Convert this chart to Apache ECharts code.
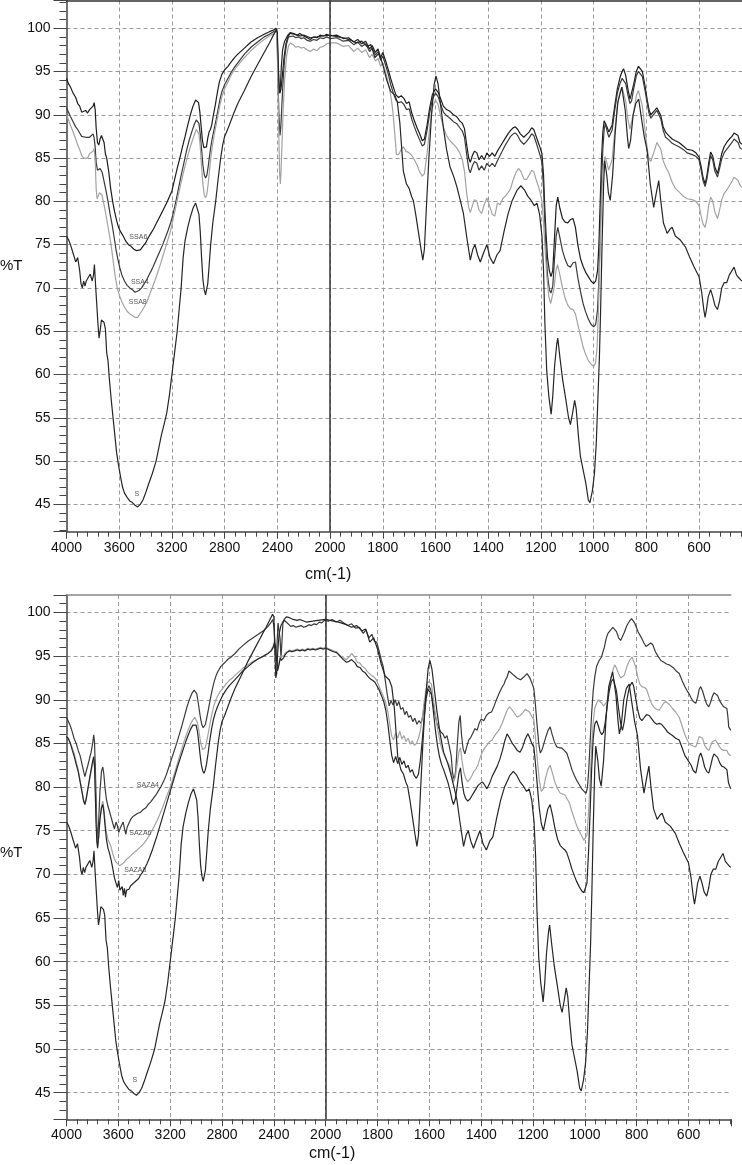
<!DOCTYPE html>
<html>
<head>
<meta charset="utf-8">
<title>FTIR spectra</title>
<script src="https://cdn.jsdelivr.net/npm/echarts@6/dist/echarts.min.js"></script>
<style>
  html, body { margin: 0; padding: 0; background: #fff; }
  #chart { width: 742px; height: 1165px; }
</style>
</head>
<body>
<div id="chart"></div>
<script>
// spectra as [wavenumber cm-1, %T]
const specS = [[4000,76],[3985,75.6],[3970,75],[3950,74],[3930,73],[3915,73.5],[3900,72],[3890,70.5],[3880,70],[3870,70.8],[3860,70.2],[3850,70.8],[3835,71],[3820,71.6],[3805,70.8],[3795,71.5],[3788,72.7],[3780,70.5],[3772,68.5],[3762,66],[3753,64.2],[3745,65],[3735,66.3],[3725,66.5],[3715,66],[3705,65.3],[3695,62.5],[3685,61.6],[3675,59.5],[3660,57],[3640,54],[3620,51],[3605,49.5],[3590,48.2],[3575,47],[3560,46.3],[3540,45.8],[3520,45.4],[3500,45.2],[3480,44.9],[3460,44.7],[3440,45],[3420,45.5],[3400,46.3],[3380,47.2],[3350,48.5],[3320,50],[3300,51.5],[3280,53],[3260,54.2],[3240,55.5],[3220,57.5],[3200,60],[3180,62.5],[3160,65],[3145,67.5],[3130,70],[3115,73.5],[3100,75.5],[3080,77],[3060,78.2],[3040,79.2],[3020,79.8],[3005,79.7],[2995,78.5],[2985,76.5],[2975,73.5],[2965,71],[2955,69.8],[2945,69.2],[2936,69.3],[2928,70.5],[2918,72.5],[2906,75],[2890,77.5],[2868,80],[2850,82.5],[2830,85],[2815,86.5],[2800,87.5],[2780,88.2],[2760,89],[2730,90.2],[2700,91.3],[2650,92.8],[2600,94.4],[2550,95.8],[2500,97.2],[2460,98.3],[2430,99.2],[2410,99.8],[2400,99.5],[2392,95.5],[2385,92.5],[2378,93],[2370,95.5],[2360,97.5],[2345,98.5],[2320,99.2],[2303,99.5],[2280,99.4],[2250,99.2],[2220,99.1],[2200,99.2],[2150,98.9],[2100,99],[2060,99.1],[2000,99.2],[1970,99],[1950,98.9],[1920,98.6],[1900,98.3],[1880,98.5],[1860,97.9],[1845,98.1],[1830,96.6],[1815,97.1],[1800,95.8],[1785,94],[1770,92.7],[1755,92.3],[1745,91.5],[1735,89],[1722,83.5],[1710,82],[1700,81.5],[1690,80.5],[1684,80.1],[1675,78.5],[1665,76.5],[1655,74.5],[1648,73.2],[1642,74.5],[1635,79],[1625,85],[1615,90],[1605,93.5],[1598,94.5],[1590,93.5],[1580,91],[1570,88.5],[1558,86],[1545,84],[1530,82.8],[1519,81.7],[1505,80],[1494,78.6],[1482,76],[1468,73.2],[1458,74.5],[1450,75],[1440,73.8],[1430,73],[1418,74],[1405,75],[1393,73.5],[1380,72.8],[1367,73.8],[1355,74.3],[1340,76.5],[1325,78.5],[1310,80],[1290,81.3],[1276,81.8],[1262,81.3],[1250,80.6],[1237,80.1],[1225,79.5],[1215,79.8],[1205,78.5],[1196,76],[1190,72],[1185,66],[1178,60.5],[1170,57.5],[1161,55.4],[1155,57.5],[1148,61],[1140,63.5],[1136,64.2],[1128,62],[1118,59.5],[1105,57],[1095,55],[1088,54.2],[1080,55.5],[1072,57],[1066,56],[1058,53],[1050,50.5],[1040,49],[1030,47.5],[1020,45.5],[1014,45.2],[1005,46.5],[997,48.5],[990,52],[984,57],[978,62],[973,68],[968,75],[962,82],[958,84.7],[950,83],[944,81],[937,80.1],[928,83],[918,88],[908,91.5],[893,93.2],[880,90.5],[872,87.5],[867,86.1],[860,87],[850,90],[840,91.3],[829,91.8],[818,89.5],[808,87.5],[797,85.9],[785,82],[772,79.3],[762,81],[753,82.4],[745,80],[735,77.5],[721,76.3],[710,76.8],[702,77],[690,76],[670,75.5],[651,74.7],[635,73.5],[620,72.5],[600,71.3],[590,69.5],[582,67.5],[577,66.6],[572,67.5],[565,69],[556,69.8],[548,69],[540,68],[530,67.5],[522,68.5],[514,70],[505,70.6],[495,70.6],[485,71.5],[475,72],[467,72.4],[458,71.5],[450,71.2],[441,70.9],[437,70.8]];

const specSSA6 = [[4000,94.2],[3985,93.6],[3970,93.2],[3950,92.5],[3930,92],[3915,91.3],[3900,91],[3885,90.3],[3870,90.1],[3855,90.5],[3840,90.2],[3825,90.6],[3810,90.4],[3798,91],[3790,91.4],[3782,90.5],[3775,88.5],[3765,86.8],[3755,86.5],[3745,87.2],[3735,87.6],[3725,87.5],[3715,86.8],[3705,85.5],[3695,85],[3680,83.5],[3665,81.5],[3650,80],[3635,78.8],[3620,77.8],[3605,77],[3590,76.5],[3570,76],[3550,75.4],[3530,75],[3510,74.8],[3490,74.5],[3470,74.3],[3455,74.2],[3440,74.4],[3420,74.8],[3400,75.2],[3380,75.8],[3360,76.3],[3340,76.8],[3320,77.4],[3300,78],[3280,78.6],[3260,79.2],[3240,79.8],[3220,80.5],[3200,81.2],[3180,82.5],[3160,83.8],[3140,85],[3120,86.3],[3100,87.5],[3080,88.8],[3060,90],[3040,91],[3020,91.7],[3008,91.8],[2998,91.4],[2988,90.3],[2978,88.6],[2968,87],[2958,86.2],[2948,86],[2938,86.3],[2928,87.3],[2918,88],[2908,88.3],[2898,88.8],[2885,90],[2870,91.2],[2855,92.6],[2840,93.8],[2820,94.7],[2800,95.2],[2775,95.6],[2750,96.1],[2725,96.6],[2700,97],[2650,97.7],[2600,98.4],[2550,98.9],[2500,99.3],[2460,99.6],[2430,99.8],[2410,100],[2402,99.5],[2395,96],[2388,93.5],[2380,92.5],[2372,93],[2362,94.5],[2350,96.5],[2335,98.2],[2320,99],[2305,99.4],[2290,99.6],[2270,99.3],[2250,99.2],[2230,99.4],[2200,99.1],[2175,98.9],[2150,98.7],[2125,99],[2100,98.9],[2075,99.2],[2050,99.1],[2025,99.3],[2000,99.1],[1975,99.2],[1950,98.8],[1930,98.9],[1910,98.4],[1895,98.7],[1880,98.2],[1865,98.5],[1850,97.6],[1840,98],[1828,97.2],[1818,97.6],[1808,96.6],[1800,97.2],[1790,96.3],[1780,95.3],[1770,94.2],[1760,93.2],[1750,92.3],[1740,92],[1730,92.2],[1720,91.9],[1710,91.3],[1700,91.5],[1690,90.2],[1680,89.3],[1670,88.5],[1660,87.8],[1650,87],[1642,87.2],[1632,88.8],[1622,90.8],[1612,92.3],[1600,93],[1590,92.6],[1580,91.8],[1570,91],[1558,90.6],[1545,90.4],[1532,90],[1520,89.8],[1508,89.3],[1498,89],[1490,88.4],[1482,86.6],[1474,85],[1468,84.5],[1460,85.3],[1452,85.8],[1443,85.6],[1435,84.8],[1425,85.3],[1415,84.8],[1405,85.6],[1395,85.2],[1385,85.6],[1375,85.2],[1365,85.8],[1355,86.3],[1345,86.8],[1335,87.3],[1325,87.8],[1315,88.2],[1305,88.5],[1297,88.6],[1288,88.3],[1278,87.8],[1265,87.4],[1255,87.7],[1245,88],[1235,88.5],[1227,88.3],[1218,87.5],[1210,86.8],[1203,86.2],[1196,85.5],[1190,83],[1185,79],[1180,76],[1175,73.5],[1168,72],[1162,71.3],[1155,72],[1148,76],[1142,79.5],[1136,80.5],[1128,79.2],[1118,78],[1108,77.6],[1098,77.5],[1088,77.9],[1078,78],[1069,77],[1060,75],[1050,73.4],[1040,72.5],[1030,71.8],[1020,71.3],[1010,70.8],[1000,70.5],[992,70.8],[985,72],[980,75],[975,80],[970,85],[965,88],[960,89.3],[955,89.5],[948,88.5],[942,88],[937,87.8],[930,88.8],[920,91],[910,93],[900,94.3],[892,95],[886,95.3],[878,94.5],[870,93],[862,91.8],[856,92],[848,93.5],[838,95],[830,95.6],[823,95.7],[815,95],[806,93.5],[797,91.8],[790,90.6],[783,90],[778,89.9],[768,90.5],[760,90.8],[753,90.7],[745,89.9],[736,88.6],[727,88],[715,87.6],[702,87.2],[690,87],[676,86.8],[660,86.4],[645,86],[626,85.9],[612,85.6],[600,85.1],[592,84],[585,82.8],[577,82],[570,83],[563,84.5],[556,85.7],[548,85.2],[540,84],[530,83.2],[522,84.3],[514,85.5],[505,86.3],[495,86.8],[485,87.2],[475,87.5],[467,87.9],[460,88],[452,87.6],[445,86.8],[441,86.7],[437,86.6]];

const specSSA4 = [[4000,90.8],[3985,90.3],[3970,89.8],[3950,89.2],[3930,88.6],[3915,88.3],[3900,87.9],[3885,87.5],[3870,87.3],[3855,87.4],[3840,87.2],[3825,87.4],[3810,87.6],[3798,87.8],[3790,87.3],[3782,86.2],[3775,84.5],[3765,83.6],[3755,83.4],[3745,83.8],[3738,83.7],[3728,83.3],[3715,82.3],[3700,81.2],[3685,80],[3670,78.6],[3655,77.4],[3640,76],[3625,74.5],[3610,73.3],[3595,72.3],[3580,71.5],[3560,70.8],[3540,70.3],[3520,70],[3500,69.8],[3480,69.5],[3465,69.6],[3450,69.7],[3430,70],[3410,70.5],[3390,71],[3370,71.6],[3350,72.2],[3330,72.9],[3310,73.6],[3290,74.3],[3270,75],[3250,75.8],[3230,76.6],[3210,77.5],[3190,78.6],[3170,80],[3150,81.5],[3130,83],[3110,84.4],[3090,85.8],[3070,87],[3050,88],[3030,88.9],[3015,89.4],[3005,89.5],[2995,89],[2985,87.8],[2975,86],[2965,84.2],[2955,83.1],[2945,82.7],[2935,83],[2925,84],[2915,85.2],[2905,86.3],[2895,87.2],[2880,88.3],[2865,89.4],[2850,90.6],[2835,91.8],[2820,92.7],[2800,93.5],[2775,94.2],[2750,94.9],[2725,95.5],[2700,96],[2650,97],[2600,97.8],[2550,98.4],[2500,99],[2460,99.3],[2430,99.6],[2410,99.8],[2402,99.2],[2395,94],[2388,90],[2380,87.6],[2374,88.5],[2366,91],[2356,94],[2345,96.5],[2330,98.2],[2315,99],[2300,99.2],[2280,99.1],[2260,98.9],[2240,99],[2220,98.8],[2200,98.9],[2175,98.6],[2150,98.5],[2125,98.7],[2100,98.6],[2075,98.9],[2050,98.8],[2025,99],[2000,98.8],[1975,98.9],[1950,98.5],[1930,98.6],[1910,98.1],[1895,98.4],[1880,97.9],[1865,98.2],[1850,97.3],[1840,97.7],[1828,96.9],[1818,97.3],[1808,96.3],[1800,96.8],[1790,95.8],[1780,94.8],[1770,93.5],[1760,92.5],[1750,91.7],[1740,91.4],[1730,91.5],[1720,91.2],[1710,90.6],[1700,90.7],[1690,89.5],[1680,88.6],[1670,87.8],[1660,87.1],[1650,86.4],[1642,86.6],[1632,88.2],[1622,90.2],[1612,91.8],[1600,92.5],[1590,92.1],[1580,91.2],[1570,90.3],[1558,89.9],[1545,89.6],[1532,89.2],[1520,89],[1508,88.5],[1498,88.1],[1490,87.4],[1482,85.5],[1474,83.8],[1468,83.3],[1460,84.1],[1452,84.6],[1443,84.4],[1435,83.6],[1425,84.1],[1415,83.6],[1405,84.4],[1395,84],[1385,84.4],[1375,84],[1365,84.7],[1355,85.3],[1345,85.9],[1335,86.5],[1325,87],[1315,87.5],[1305,87.8],[1297,87.9],[1288,87.6],[1278,87],[1265,86.6],[1255,86.9],[1245,87.3],[1235,87.8],[1227,87.6],[1218,86.8],[1210,86],[1203,85.3],[1196,84.5],[1190,81.5],[1185,77.5],[1180,74],[1175,71.5],[1168,69.8],[1162,69.4],[1155,70.2],[1148,73.5],[1142,76],[1136,77],[1128,75.8],[1118,74.3],[1108,73.3],[1098,72.6],[1088,72.4],[1078,72.9],[1069,73],[1060,71.2],[1050,69.6],[1040,68.2],[1030,67.2],[1020,66.4],[1010,65.8],[1000,65.5],[992,65.8],[985,67.5],[980,71],[975,76],[970,82],[965,86],[960,88.3],[955,89],[948,88],[942,87.4],[937,87.2],[930,88.2],[920,90.5],[910,92.5],[900,93.6],[892,94.2],[886,94.3],[878,93.6],[870,92.3],[862,91.3],[856,91.6],[848,93],[838,94.5],[830,95],[823,95.1],[815,94.4],[806,93],[797,91.4],[790,90.2],[783,89.6],[778,89.6],[768,90.2],[760,90.5],[753,90.4],[745,89.5],[736,88.2],[727,87.4],[715,87.1],[702,86.7],[690,86.5],[676,86.3],[660,86],[645,85.6],[626,85.4],[612,85.2],[600,84.8],[592,83.6],[585,82.4],[577,81.7],[570,82.6],[563,84],[556,85.3],[548,84.8],[540,83.5],[530,82.8],[522,83.8],[514,84.9],[505,85.6],[495,86],[485,86.4],[475,86.8],[467,87.2],[460,87.3],[452,86.8],[445,86.2],[441,86],[437,86]];

const specSSA8 = [[4000,90],[3985,89.4],[3970,88.8],[3950,88],[3930,87.2],[3915,86.5],[3900,86],[3885,85.3],[3870,85],[3855,85.2],[3840,85],[3825,85.5],[3810,85.3],[3798,85.8],[3790,86.1],[3782,84.5],[3775,81.5],[3768,80.3],[3760,80.6],[3750,81],[3740,81.2],[3730,80.7],[3718,79.8],[3705,78.8],[3690,77.5],[3675,76.2],[3660,74.8],[3645,73],[3630,71.3],[3615,70],[3600,69.2],[3580,68.4],[3560,67.8],[3540,67.3],[3520,67],[3500,66.8],[3480,66.6],[3460,66.6],[3445,66.8],[3430,67.3],[3410,67.8],[3390,68.4],[3370,69.2],[3350,70],[3330,70.8],[3310,71.7],[3290,72.6],[3270,73.6],[3250,74.6],[3230,75.6],[3210,76.6],[3190,78],[3170,79.4],[3150,80.8],[3130,82.2],[3110,83.5],[3090,84.7],[3070,85.8],[3050,86.8],[3030,87.7],[3015,88.3],[3005,88.4],[2995,87.8],[2985,86.3],[2975,84],[2965,82],[2955,80.8],[2945,80.4],[2935,80.8],[2925,82],[2915,83.5],[2905,85],[2895,86.2],[2880,87.6],[2865,88.8],[2850,90],[2835,91.2],[2820,92.1],[2800,93],[2775,93.8],[2750,94.6],[2725,95.2],[2700,95.7],[2650,96.6],[2600,97.4],[2550,98.1],[2500,98.7],[2460,99.1],[2430,99.4],[2410,99.7],[2402,98.8],[2395,93],[2388,87],[2382,83],[2377,82],[2372,83.5],[2365,86.5],[2356,90.5],[2345,94],[2330,96.8],[2315,98],[2300,98.3],[2280,98.1],[2260,97.8],[2240,97.9],[2220,97.7],[2200,97.8],[2175,97.5],[2150,97.3],[2125,97.6],[2100,97.4],[2075,97.8],[2050,97.9],[2025,98.2],[2000,98.3],[1975,98.3],[1950,97.9],[1930,98],[1910,97.3],[1895,97.7],[1880,97.2],[1865,97.5],[1850,96.6],[1840,97],[1828,96.2],[1818,96.5],[1808,95.6],[1800,96],[1790,95],[1780,93.8],[1770,92.3],[1762,90.5],[1755,88],[1748,85.4],[1740,85.4],[1730,86],[1722,86.3],[1712,85.8],[1700,85.6],[1690,85.3],[1680,84.8],[1670,84.2],[1660,83.4],[1650,82.9],[1642,83.2],[1632,85.5],[1622,88.5],[1612,90.8],[1600,91.7],[1590,91.2],[1580,89.8],[1570,88.6],[1558,87.6],[1545,87],[1532,86.6],[1520,86.2],[1508,85.6],[1498,84.8],[1490,83.5],[1482,81],[1474,79.3],[1468,78.7],[1460,79.5],[1452,80.2],[1443,80],[1435,79],[1425,78.6],[1415,79.6],[1405,80.4],[1395,79.5],[1385,78.5],[1375,78.3],[1365,79.8],[1355,79.6],[1345,80.3],[1335,80.6],[1325,81],[1316,81.4],[1305,82.5],[1295,83.3],[1285,83.8],[1275,83.4],[1265,82.6],[1255,82.5],[1245,83],[1235,83.6],[1227,83.4],[1218,82.5],[1210,81.8],[1203,81],[1196,80],[1190,77.5],[1185,75],[1178,71.5],[1170,69],[1163,68.2],[1157,68.2],[1150,70],[1143,72],[1137,72.7],[1128,71.5],[1118,70],[1108,68.8],[1098,68],[1088,67.6],[1078,67.5],[1069,67],[1060,65.8],[1050,64.5],[1040,63.2],[1030,62.3],[1020,61.6],[1010,61.2],[1000,60.9],[993,61.3],[987,63],[982,67],[977,72.5],[972,78],[967,82],[962,84.3],[957,85.2],[950,84.5],[943,83.6],[937,83.4],[930,84.8],[920,88],[910,91],[900,92.6],[892,93.2],[886,93.2],[878,91.5],[870,89.5],[862,88.3],[856,88.5],[848,90.3],[838,92.2],[830,92.8],[823,92.7],[815,91],[806,88.5],[797,86.2],[790,84.9],[783,84.6],[778,84.7],[768,86],[760,86.8],[753,87],[745,86],[736,84.7],[727,84],[715,83.3],[702,82.2],[690,81.5],[676,81.1],[660,80.6],[645,80.3],[626,80.2],[612,80],[600,79.5],[592,78.3],[585,77.4],[577,77],[570,78],[563,79.6],[556,80.5],[548,80],[540,78.8],[530,78],[522,79],[514,80.2],[505,80.9],[495,81.3],[485,81.8],[475,82.3],[467,82.8],[460,82.9],[452,82.4],[445,81.9],[441,81.7],[437,81.6]];

const specSAZA4 = [[4000,88],[3985,87.8],[3970,87],[3955,86.3],[3940,85.5],[3925,85],[3910,84.2],[3895,83.6],[3880,82.6],[3868,81.8],[3858,81.2],[3848,81.8],[3835,82.5],[3822,83.3],[3810,84],[3798,85],[3790,86],[3784,85.2],[3778,82.5],[3772,79],[3766,75.5],[3760,73.5],[3752,76],[3742,79.5],[3730,81.8],[3720,82.3],[3712,81.5],[3702,79.8],[3692,78.6],[3680,77.8],[3668,77.2],[3655,76.5],[3642,75.8],[3630,75.2],[3618,76],[3608,75.6],[3597,74.8],[3585,75.3],[3574,75.1],[3563,76],[3552,75.2],[3542,74.6],[3532,75.4],[3520,75.8],[3505,76.3],[3490,76.6],[3470,76.8],[3450,77],[3430,77.1],[3410,77.4],[3390,77.6],[3370,78],[3350,78.3],[3330,78.7],[3310,79.1],[3290,79.6],[3270,80.1],[3250,80.7],[3230,81.4],[3210,82.3],[3190,83.2],[3170,84.1],[3150,85],[3130,86],[3110,87],[3090,88.1],[3070,89.2],[3050,90.1],[3030,90.8],[3015,91.1],[3005,91.1],[2995,90.7],[2985,89.8],[2975,88.8],[2965,87.8],[2955,87.1],[2945,86.8],[2937,86.8],[2928,87.2],[2918,87.9],[2905,88.9],[2890,90.1],[2875,91.2],[2860,92.1],[2845,92.8],[2830,93.3],[2810,93.8],[2790,94.1],[2770,94.4],[2750,94.7],[2730,94.9],[2700,95.3],[2670,95.8],[2640,96.2],[2600,96.7],[2560,97.1],[2520,97.5],[2480,97.9],[2445,98.4],[2420,98.9],[2408,99.2],[2398,98.2],[2390,96],[2382,94.5],[2375,96.5],[2368,98.8],[2360,99],[2352,97],[2345,94.8],[2338,96.5],[2330,98.8],[2320,99.1],[2305,98.9],[2290,98.7],[2270,98.4],[2250,98.5],[2230,98.3],[2210,98.4],[2190,98.5],[2170,98.3],[2150,98.4],[2130,98.6],[2110,98.5],[2090,98.7],[2070,98.6],[2050,98.9],[2030,98.8],[2010,99.1],[1990,99],[1975,99.2],[1960,98.9],[1945,99.1],[1930,98.8],[1915,98.5],[1900,98.7],[1885,98.2],[1870,98.3],[1855,97.6],[1845,98],[1833,97.1],[1822,97.5],[1812,96.7],[1803,96.6],[1795,95.7],[1785,94.5],[1778,93.8],[1770,92.2],[1762,90.5],[1755,89.3],[1748,89.9],[1740,89.4],[1732,90],[1725,89.3],[1718,89.8],[1710,88.9],[1702,89.1],[1695,88.3],[1688,88.7],[1680,88],[1672,88.2],[1664,87.5],[1656,87.9],[1648,87.2],[1640,87.6],[1632,87.3],[1625,88.2],[1617,89.8],[1610,91],[1602,91.6],[1595,91.2],[1588,90],[1580,88.6],[1572,87.4],[1564,86.8],[1556,86.3],[1548,86.1],[1540,85.6],[1532,85.9],[1524,84.8],[1516,83.6],[1510,81.5],[1504,80.8],[1498,82],[1492,85],[1486,87.5],[1481,88.2],[1476,86],[1470,84.4],[1463,83.8],[1456,84.6],[1448,85.4],[1440,85.7],[1432,86.2],[1424,86.7],[1416,86.5],[1408,87.3],[1400,87.8],[1390,87.6],[1380,88.2],[1370,88.5],[1360,88.6],[1350,89.3],[1340,90.1],[1330,90.8],[1320,91.4],[1312,91.8],[1306,92.3],[1300,92.6],[1293,93.3],[1285,93.1],[1274,92.8],[1262,92.5],[1248,92.3],[1236,92.6],[1223,93],[1212,92.5],[1203,91.8],[1197,91.3],[1191,89.5],[1185,87.3],[1178,85],[1172,83.9],[1165,84.3],[1158,85],[1150,85.8],[1142,86.5],[1134,86.9],[1126,86],[1118,85.2],[1108,84.6],[1098,84.5],[1090,84.5],[1080,84.2],[1070,83.9],[1060,83],[1050,82],[1040,81.3],[1032,80.8],[1022,80.3],[1012,79.8],[1003,79.5],[995,79.3],[990,80],[985,82],[980,85],[974,88.4],[968,91],[962,92.6],[955,93.8],[945,94.5],[936,94.9],[925,96],[918,97],[911,97.6],[900,98],[892,98.3],[885,98.4],[878,97.8],[870,97.1],[862,96.8],[855,97],[848,97.7],[838,98.5],[828,99],[820,99.3],[815,99.3],[808,98.8],[800,98.2],[795,97.8],[789,97.6],[780,97],[772,96.5],[764,96.1],[755,96.3],[746,96.5],[738,96.3],[728,95.5],[718,95],[707,94.5],[695,94.3],[685,94.1],[675,94],[660,93.7],[648,93.3],[636,93],[625,92.2],[614,91.5],[605,91],[598,90.7],[590,90.2],[582,89.8],[572,89.6],[565,90.3],[559,91.2],[553,91.5],[546,91],[538,90.2],[530,89.5],[522,89.2],[515,89.7],[508,90.4],[502,90.8],[496,90.9],[488,90.5],[480,89.9],[472,89.5],[464,89.2],[458,89.4],[452,89],[448,88],[445,86.9],[440,86.7],[437,86.5]];

const specSAZA6 = [[4000,86],[3985,85.6],[3970,85],[3955,84.5],[3940,83.8],[3925,82.9],[3910,82],[3895,80.8],[3880,79.5],[3868,78.5],[3858,78.2],[3848,78.8],[3835,79.8],[3822,80.8],[3810,81.8],[3798,82.6],[3790,83],[3784,82.3],[3778,79.5],[3772,76.5],[3766,74.2],[3760,73.2],[3752,74.2],[3742,76.2],[3730,77.8],[3720,78.4],[3712,77.6],[3702,76],[3692,74.8],[3680,74],[3668,73.6],[3655,73.1],[3642,72.3],[3630,71.8],[3618,71.4],[3605,71.2],[3590,71],[3575,71.1],[3560,71.3],[3545,71.6],[3530,71.8],[3515,72],[3500,72.2],[3480,72.5],[3460,72.7],[3440,73],[3420,73.3],[3400,73.6],[3380,74],[3360,74.5],[3340,75],[3320,75.6],[3300,76.2],[3280,76.9],[3260,77.6],[3240,78.4],[3220,79.2],[3200,80],[3180,80.9],[3160,81.9],[3140,82.9],[3120,83.9],[3100,84.9],[3080,85.8],[3060,86.6],[3040,87.3],[3025,87.7],[3010,88],[3000,87.9],[2990,87.4],[2980,86.6],[2970,85.6],[2960,84.8],[2950,84.3],[2940,84.2],[2930,84.5],[2920,85.1],[2908,86],[2895,87.1],[2880,88.2],[2865,89.2],[2850,89.9],[2835,90.4],[2815,90.9],[2795,91.3],[2770,91.8],[2745,92.2],[2720,92.5],[2700,92.8],[2670,93.2],[2640,93.6],[2600,94],[2560,94.4],[2520,94.7],[2480,95],[2445,95.3],[2420,95.7],[2405,96.2],[2395,96.8],[2388,96.6],[2380,95.2],[2372,93.8],[2365,93.5],[2358,94.5],[2350,95],[2342,94.8],[2335,95],[2325,95],[2315,95.3],[2300,95.5],[2280,95.7],[2260,95.6],[2240,95.7],[2220,95.8],[2200,95.7],[2180,95.8],[2160,95.7],[2140,95.9],[2120,95.8],[2100,95.9],[2080,95.8],[2060,95.9],[2040,96],[2020,95.9],[2000,96],[1985,95.8],[1970,95.6],[1958,95.5],[1945,95.1],[1932,94.8],[1920,94.6],[1910,94.9],[1900,95.3],[1893,95.5],[1886,94.8],[1878,94.3],[1868,94.2],[1858,93.8],[1848,93.6],[1838,93.2],[1828,92.9],[1818,92.7],[1810,92.5],[1803,92.2],[1795,91.6],[1785,90.9],[1776,90.3],[1768,89.6],[1760,88.6],[1752,87],[1745,85.8],[1738,85.4],[1730,86.2],[1722,85.6],[1714,86.4],[1706,85.5],[1698,85.9],[1690,85.2],[1682,85.6],[1674,84.9],[1666,85.3],[1658,84.8],[1650,85],[1642,85.6],[1635,86.4],[1627,88],[1620,89.8],[1612,91.3],[1605,92.1],[1598,92.3],[1592,91.8],[1585,90.2],[1577,88.4],[1569,86.8],[1561,85.5],[1553,84.5],[1545,83.8],[1537,83.3],[1529,82.8],[1521,82.4],[1513,81.3],[1507,80.6],[1500,81.2],[1493,82.5],[1486,84],[1480,84.5],[1474,83],[1467,81.7],[1460,81],[1452,80.6],[1444,80.9],[1436,81.3],[1428,81.8],[1420,82.1],[1412,82.6],[1404,83.4],[1396,84],[1388,84.4],[1378,84.8],[1368,85.2],[1358,85.4],[1348,85.9],[1338,86.3],[1328,86.7],[1318,87.4],[1308,88.2],[1298,88.9],[1290,89.2],[1280,88.8],[1270,88.4],[1261,88],[1250,88.2],[1240,88.5],[1230,88.9],[1223,89],[1214,88.6],[1205,88.1],[1197,87.7],[1190,85.5],[1183,83],[1176,80.8],[1168,79.5],[1160,79.8],[1152,81],[1143,82],[1134,82.5],[1125,81.6],[1115,80.5],[1105,79.8],[1095,79.3],[1085,79.2],[1077,79.1],[1070,78.9],[1060,78.2],[1050,77.2],[1040,76.3],[1032,75.6],[1022,75],[1012,74.4],[1004,73.9],[998,73.7],[992,74.5],[986,77],[980,80.5],[974,84.5],[968,87.4],[962,89],[955,89.6],[948,90],[942,90],[935,89.6],[928,89.3],[921,89.2],[914,89.8],[906,91.4],[898,92.7],[890,93.6],[885,94],[878,93.6],[870,93],[862,92.5],[855,92.3],[848,92.8],[838,93.8],[828,94.5],[818,94.9],[812,94.8],[804,93.8],[796,92.6],[788,91.8],[780,91.5],[770,91.4],[762,91.2],[752,90.3],[742,89.5],[732,89.1],[722,88.9],[713,88.8],[705,89.2],[696,89.6],[688,89.8],[681,89.8],[672,89.4],[662,89],[650,88.6],[636,88],[625,87],[614,86],[605,85.4],[598,85],[590,84.8],[582,84.7],[572,84.6],[565,85.2],[559,85.8],[553,86],[546,85.6],[538,84.8],[530,84.4],[522,84.2],[515,84.7],[508,85.2],[502,85.4],[496,85.4],[488,85],[480,84.6],[472,84.3],[464,84.2],[458,84.4],[452,84.2],[446,83.8],[440,83.7],[437,83.6]];

const specSAZA8 = [[4000,85.8],[3985,85.5],[3970,85],[3955,84.2],[3940,83.5],[3925,82.6],[3910,81.8],[3895,80.6],[3880,79.4],[3868,78.4],[3858,78],[3848,78.6],[3835,79.8],[3822,81],[3810,82],[3798,83],[3790,83.5],[3784,82.6],[3778,79.5],[3772,76],[3766,73.8],[3760,73],[3752,74.3],[3742,76.3],[3730,77.6],[3720,78],[3712,77.2],[3702,75.5],[3692,74],[3680,73],[3668,72.4],[3655,71.6],[3642,70.6],[3630,69.6],[3618,69],[3607,68.5],[3597,69.3],[3588,68.2],[3578,68],[3570,68.6],[3562,67.6],[3553,68.4],[3545,67.4],[3537,68.2],[3528,68.4],[3518,68.3],[3505,68.7],[3490,68.9],[3475,69.1],[3460,69.3],[3445,69.5],[3430,69.9],[3415,70.2],[3400,70.6],[3380,71.2],[3360,71.9],[3340,72.7],[3320,73.6],[3300,74.5],[3280,75.5],[3260,76.5],[3240,77.5],[3220,78.5],[3200,79.5],[3180,80.5],[3160,81.5],[3140,82.5],[3120,83.4],[3100,84.3],[3080,85.2],[3060,86],[3040,86.7],[3025,87.1],[3010,87.3],[3000,87.1],[2990,86.4],[2980,85.2],[2970,83.8],[2960,82.6],[2950,81.9],[2940,81.6],[2930,81.9],[2920,82.6],[2908,83.8],[2895,85.3],[2880,86.7],[2865,87.8],[2850,88.6],[2835,89.2],[2815,89.9],[2795,90.5],[2770,91.1],[2745,91.6],[2720,92],[2700,92.3],[2670,92.8],[2640,93.3],[2600,93.8],[2560,94.3],[2520,94.7],[2480,95],[2445,95.3],[2420,95.6],[2405,96],[2395,96.5],[2388,96.2],[2380,94.8],[2372,93.3],[2365,93.2],[2358,94.2],[2350,94.8],[2342,94.5],[2335,94.7],[2325,94.8],[2315,95.1],[2300,95.4],[2280,95.6],[2260,95.5],[2240,95.6],[2220,95.7],[2200,95.6],[2180,95.7],[2160,95.6],[2140,95.8],[2120,95.7],[2100,95.8],[2080,95.7],[2060,95.8],[2040,95.9],[2020,95.8],[2000,95.9],[1985,95.7],[1970,95.5],[1958,95.4],[1945,95],[1932,94.6],[1920,94.3],[1910,94.4],[1900,94.6],[1893,94.5],[1886,94.2],[1878,93.8],[1868,93.7],[1858,93.3],[1848,93.1],[1838,92.7],[1828,92.4],[1818,92.2],[1810,92],[1803,91.8],[1795,91.2],[1785,90.5],[1776,89.8],[1768,88.8],[1760,87.2],[1752,85.2],[1745,83.6],[1738,82.8],[1730,83.5],[1722,82.7],[1714,83.4],[1706,82.6],[1698,83],[1690,82.2],[1682,82.5],[1674,81.7],[1666,82],[1658,81.3],[1650,81],[1642,81.5],[1635,83],[1627,85.5],[1620,88],[1612,90.2],[1605,91.2],[1598,91.3],[1592,90.6],[1585,88.8],[1577,86.6],[1569,84.8],[1561,83.5],[1553,82.6],[1545,82],[1537,81.3],[1529,80.6],[1521,79.7],[1513,78.6],[1507,78],[1500,78.6],[1493,80],[1486,81.6],[1480,82.2],[1474,80.6],[1467,79.3],[1460,78.7],[1452,78.4],[1444,78.6],[1436,79],[1428,79.4],[1420,79.8],[1412,80.2],[1404,80.4],[1396,80.6],[1388,80.3],[1378,79.8],[1368,80.4],[1358,81.2],[1348,81.8],[1338,82.4],[1328,83.2],[1318,84.2],[1308,85.4],[1300,86.1],[1290,85.6],[1280,85],[1270,84.6],[1261,84.2],[1250,84],[1240,84.6],[1230,85.5],[1220,86.1],[1212,85.6],[1205,85],[1197,84.6],[1190,82.5],[1183,80],[1176,77.6],[1168,75.8],[1160,75],[1152,76.2],[1143,77.5],[1134,78],[1125,76.8],[1115,75.2],[1105,74],[1095,73.3],[1085,73],[1077,72.8],[1070,72.5],[1060,71.6],[1050,70.6],[1040,69.8],[1032,69.2],[1022,68.6],[1012,68.1],[1004,67.9],[998,67.9],[992,69],[986,72.5],[980,77],[974,82],[968,85.5],[962,87.2],[955,87.6],[948,87],[942,86.4],[935,86],[928,86.3],[921,87.5],[914,89.3],[906,91],[898,92.1],[890,92.4],[885,92.3],[878,91],[870,89],[862,87.3],[855,86.5],[848,87.5],[838,90],[828,91.5],[818,92],[812,91.6],[804,90.2],[796,88.8],[788,87.9],[780,87.6],[770,88],[762,88.3],[752,88.2],[742,87.8],[732,87.4],[722,87.2],[713,87.3],[705,87.2],[696,86.9],[688,86.6],[681,86.3],[672,86.1],[662,85.9],[650,85.6],[636,85.4],[625,84.5],[614,83.6],[605,83.2],[598,83.1],[590,82.5],[582,81.9],[572,81.6],[565,82.6],[559,83.5],[553,83.9],[546,83.3],[538,82.3],[530,81.8],[522,81.6],[515,82.4],[508,83.3],[502,83.8],[496,83.9],[488,83.4],[480,82.8],[472,82.4],[464,82.3],[458,82.5],[452,82],[446,80.5],[440,80],[437,79.8]];

// in-plot curve labels: name, [wavenumber, %T]
const topNames = ['SSA6', 'SSA4', 'SSA8', 'S'];
const topLabelAt = [[3455, 75.9], [3443, 70.7], [3459, 68.4], [3466, 46.2]];
const botNames = ['SAZA4', 'SAZA6', 'SAZA8', 'S'];
const botLabelAt = [[3372, 80.2], [3430, 74.7], [3469, 70.5], [3473, 46.4]];

// x range: 4000 .. 437 cm-1, scale halves above 2000 cm-1
const wnMax = 4000, wnBreak = 2000, wnMin = 437;

function toAxis(w) {
    return w >= wnBreak ? (wnMax - w) / 2 : (wnMax - wnBreak) / 2 + (wnBreak - w);
}
function toWn(p) {
    const half = (wnMax - wnBreak) / 2;
    return p <= half ? wnMax - 2 * p : wnBreak - (p - half);
}

const chart = echarts.init(document.getElementById('chart'), null, { renderer: 'canvas' });

const FONT = '"Liberation Sans", Arial, sans-serif';
const gridDash = { color: '#9a9a9a', type: [4, 3], width: 1 };

function mainX(gridIndex) {
    return {
        type: 'value', gridIndex: gridIndex, position: 'bottom',
        min: 0, max: toAxis(wnMin), interval: 200,
        axisLine: { show: true, lineStyle: { color: '#444', width: 1.5 } },
        axisTick: { show: true, inside: false, length: 7, lineStyle: { color: '#444' } },
        minorTick: { show: true, splitNumber: 5, length: 5, lineStyle: { color: '#444' } },
        axisLabel: {
            show: true, color: '#111', fontSize: 14, fontFamily: FONT, margin: 9,
            showMaxLabel: false,
            formatter: (v) => String(Math.round(toWn(v)))
        },
        splitLine: { show: true, showMinLine: false, showMaxLine: false, lineStyle: gridDash }
    };
}
function borderX(gridIndex, color) {
    return {
        type: 'value', gridIndex: gridIndex, position: 'top',
        min: 0, max: toAxis(wnMin),
        axisLine: { show: true, lineStyle: { color: color, width: 1.5 } },
        axisTick: { show: false }, axisLabel: { show: false }, splitLine: { show: false }
    };
}
function mainY(gridIndex, min, max) {
    return {
        type: 'value', gridIndex: gridIndex, min: min, max: max,
        splitNumber: 12, minInterval: 5, maxInterval: 5,
        axisLine: { show: true, lineStyle: { color: '#444', width: 1.5 } },
        axisTick: { show: true, inside: false, length: 13, lineStyle: { color: '#444' } },
        minorTick: { show: true, splitNumber: 5, length: 7, lineStyle: { color: '#444' } },
        axisLabel: {
            show: true, color: '#111', fontSize: 14, fontFamily: FONT, margin: 16,
            showMinLabel: false, showMaxLabel: false
        },
        splitLine: { show: true, showMinLine: false, showMaxLine: false, lineStyle: gridDash }
    };
}

function spectrum(name, spec, color, xIdx, yIdx) {
    return {
        name: name, type: 'line', xAxisIndex: xIdx, yAxisIndex: yIdx,
        data: spec.map(([w, t]) => [toAxis(w), t]),
        symbol: 'none', showSymbol: false, silent: true,
        lineStyle: { color: color, width: 1.2 },
        z: 3
    };
}

// vertical solid line at the scale change + curve names, hung on one series per panel
function annotate(series, names, at) {
    series.markLine = {
        silent: true, symbol: ['none', 'none'], label: { show: false },
        lineStyle: { type: 'solid', color: '#333', width: 1.5 },
        data: [{ xAxis: toAxis(wnBreak) }]
    };
    series.markPoint = {
        silent: true, symbol: 'circle', symbolSize: 0,
        label: { show: true, position: 'inside', formatter: '{b}', fontSize: 7, color: '#555', fontFamily: FONT },
        data: names.map((n, i) => ({ name: n, coord: [toAxis(at[i][0]), at[i][1]] }))
    };
    return series;
}

const topSeries = [
    annotate(spectrum('SSA6', specSSA6, '#1c1c1c', 0, 0), topNames, topLabelAt),
    spectrum('SSA4', specSSA4, '#3a3a3a', 0, 0),
    spectrum('SSA8', specSSA8, '#a3a3a3', 0, 0),
    spectrum('S', specS, '#262626', 0, 0)
];
const botSeries = [
    annotate(spectrum('SAZA4', specSAZA4, '#3a3a3a', 2, 1), botNames, botLabelAt),
    spectrum('SAZA6', specSAZA6, '#a3a3a3', 2, 1),
    spectrum('SAZA8', specSAZA8, '#262626', 2, 1),
    spectrum('S', specS, '#262626', 2, 1)
];

const option = {
    backgroundColor: '#fff',
    animation: false,
    grid: [
        { left: 66.5, top: 0.5, width: 675.5, height: 531.2 },
        { left: 66.5, top: 595, width: 664.3, height: 524.3 }
    ],
    xAxis: [mainX(0), borderX(0, '#333'), mainX(1), borderX(1, '#888')],
    yAxis: [mainY(0, 41.84, 103.2), mainY(1, 41.95, 102)],
    series: topSeries.concat(botSeries),
    graphic: [
        { type: 'text', left: 0, top: 258, style: { text: '%T', fontSize: 15, fontFamily: FONT, fill: '#111' } },
        { type: 'text', left: 305, top: 567, style: { text: 'cm(-1)', fontSize: 16, fontFamily: FONT, fill: '#111' } },
        { type: 'text', left: 0, top: 845, style: { text: '%T', fontSize: 15, fontFamily: FONT, fill: '#111' } },
        { type: 'text', left: 309, top: 1146, style: { text: 'cm(-1)', fontSize: 16, fontFamily: FONT, fill: '#111' } }
    ]
};

chart.setOption(option);
window.addEventListener('resize', () => chart.resize());
</script>
</body>
</html>
